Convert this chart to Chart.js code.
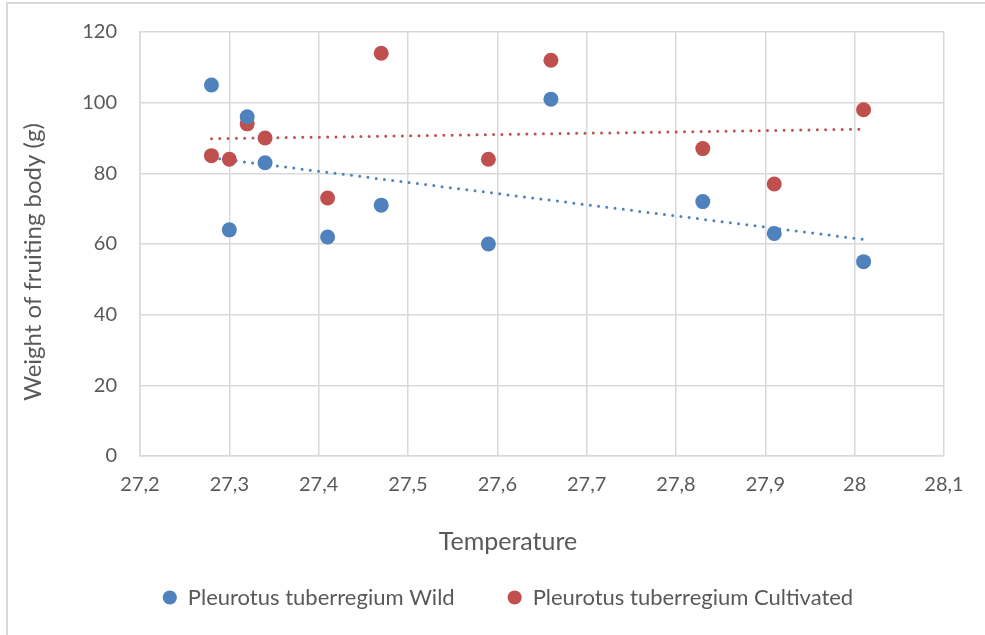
<!DOCTYPE html>
<html>
<head>
<meta charset="utf-8">
<script src="https://cdn.jsdelivr.net/npm/chart.js@4"></script>
<style>
    html, body { margin: 0; padding: 0; background: #ffffff; overflow: hidden; }
    #wrap { position: relative; width: 985px; height: 635px; }
    #frame { position: absolute; left: 6px; top: 2px; width: 1200px; height: 1200px; border: 2px solid #d9d9d9; pointer-events: none; }
</style>
</head>
<body>
<div id="wrap">
    <canvas id="scatterChart"></canvas>
    <div id="frame"></div>
</div>
<script>
// Weight of fruiting body vs temperature

const temperatures = [27.28, 27.30, 27.32, 27.34, 27.41, 27.47, 27.59, 27.66, 27.83, 27.91, 28.01];
const wildWeights = [105, 64, 96, 83, 62, 71, 60, 101, 72, 63, 55];
const cultivatedWeights = [85, 84, 94, 90, 73, 114, 84, 112, 87, 77, 98];

// linear trendline ends, read at first and last temperature
const trendTemps = [27.28, 28.01];
const wildTrend = [84.4, 61.3];
const cultivatedTrend = [89.8, 92.5];

const xTicks = [27.2, 27.3, 27.4, 27.5, 27.6, 27.7, 27.8, 27.9, 28.0, 28.1];
const yTicks = [0, 20, 40, 60, 80, 100, 120];

const seriesNames = ['Pleurotus tuberregium Wild', 'Pleurotus tuberregium Cultivated'];
const blue = '#4f81bd';
const red = '#c0504d';
const textColor = '#595959';
const gridColor = '#d9d9d9';
const fontFamily = 'Lato, "Open Sans", sans-serif';

const toPoints = (xs, ys) => xs.map((x, i) => ({ x: x, y: ys[i] }));

const trendStyle = color => ({
    type: 'line',
    borderColor: color,
    borderWidth: 3,
    borderDash: [0, 8.3],
    borderCapStyle: 'round',
    pointRadius: 0,
    fill: false,
});

new Chart(document.getElementById('scatterChart'), {
    type: 'scatter',
    data: {
        datasets: [
            {
                label: seriesNames[0],
                data: toPoints(temperatures, wildWeights),
                backgroundColor: blue,
                borderWidth: 0,
                pointRadius: 7.5,
            },
            {
                label: seriesNames[1],
                data: toPoints(temperatures, cultivatedWeights),
                backgroundColor: red,
                borderWidth: 0,
                pointRadius: 7.5,
            },
            Object.assign({ label: 'wild trend', data: toPoints(trendTemps, wildTrend) }, trendStyle(blue)),
            Object.assign({ label: 'cultivated trend', data: toPoints(trendTemps, cultivatedTrend) }, trendStyle(red)),
        ]
    },
    options: {
        responsive: true,
        maintainAspectRatio: false,
        animation: false,
        layout: {
            padding: { left: 72, right: 41, top: 32, bottom: 16.5 },
        },
        scales: {
            x: {
                type: 'linear',
                min: 27.2,
                max: 28.1,
                afterBuildTicks: scale => { scale.ticks = xTicks.map(v => ({ value: v })); },
                afterFit: scale => { scale.height = 60; },
                grid: { color: gridColor, lineWidth: 1.5, drawTicks: false },
                border: { color: gridColor, width: 1.5 },
                ticks: {
                    color: textColor,
                    font: { family: fontFamily, size: 20 },
                    padding: 17,
                    callback: v => String(Number(v.toFixed(1))).replace('.', ','),
                },
            },
            y: {
                min: 0,
                max: 120,
                afterBuildTicks: scale => { scale.ticks = yTicks.map(v => ({ value: v })); },
                afterFit: scale => { scale.width = 68; },
                // invisible tick marks keep the labels off the axis without growing the top padding
                grid: { color: gridColor, lineWidth: 1.5, drawTicks: true, tickLength: 20, tickColor: 'rgba(0,0,0,0)' },
                border: { color: gridColor, width: 1.5 },
                ticks: {
                    color: textColor,
                    font: { family: fontFamily, size: 20 },
                    padding: 3,
                },
                title: {
                    display: true,
                    // two em spaces push the title a little below the plot centre, as in Excel
                    text: 'Weight of fruiting body (g)\u2003\u2003',
                    color: textColor,
                    font: { family: fontFamily, size: 24 },
                    padding: { top: -53.4, bottom: 0 },
                },
            },
        },
        plugins: {
            title: {
                display: true,
                text: 'Temperature',
                position: 'bottom',
                weight: 500,
                color: textColor,
                font: { family: fontFamily, size: 25, weight: 'normal' },
                padding: { top: 11, bottom: -23.5 },
            },
            legend: {
                position: 'bottom',
                labels: {
                    color: textColor,
                    font: { family: fontFamily, size: 22 },
                    usePointStyle: true,
                    pointStyle: 'circle',
                    boxWidth: 14,
                    boxHeight: 10,
                    padding: 53,
                    filter: item => item.datasetIndex < 2,
                },
            },
            tooltip: { enabled: false },
        },
    }
});
</script>
</body>
</html>
